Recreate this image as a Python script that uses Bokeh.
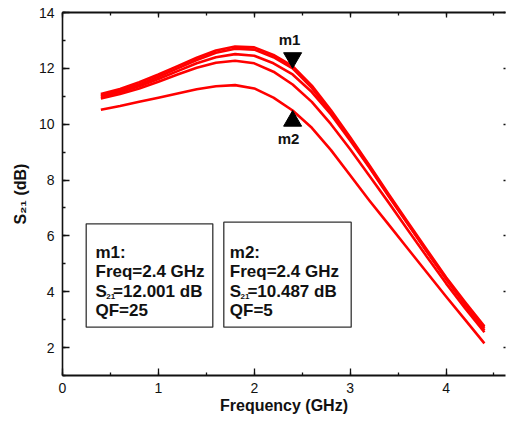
import math
from bokeh.plotting import figure
from bokeh.models import (Range1d, LinearAxis, SingleIntervalTicker, Label,
                          BoxAnnotation, CustomJSTickFormatter)
from bokeh.embed import file_html
from bokeh.resources import INLINE

# ---------------- data ----------------
freq = [0.4, 0.6, 0.8, 1.0, 1.2, 1.4, 1.6, 1.8, 2.0, 2.2, 2.4,
        2.6, 2.8, 3.0, 3.2, 3.4, 3.6, 3.8, 4.0, 4.2, 4.4]

s21_a = [11.08, 11.26, 11.50, 11.78, 12.08, 12.38, 12.64, 12.78, 12.75, 12.48, 12.08,
         11.38, 10.50, 9.53, 8.53, 7.50, 6.50, 5.50, 4.52, 3.62, 2.76]
s21_b = [11.03, 11.20, 11.42, 11.70, 12.00, 12.30, 12.56, 12.70, 12.67, 12.40, 12.00,
         11.30, 10.42, 9.47, 8.48, 7.45, 6.45, 5.45, 4.48, 3.57, 2.70]
s21_c = [10.98, 11.15, 11.36, 11.62, 11.90, 12.18, 12.40, 12.51, 12.45, 12.18, 11.78,
         11.15, 10.35, 9.42, 8.45, 7.43, 6.43, 5.43, 4.46, 3.52, 2.62]
s21_d = [10.92, 11.08, 11.28, 11.52, 11.78, 12.02, 12.20, 12.27, 12.18, 11.88, 11.42,
         10.80, 10.00, 9.10, 8.15, 7.20, 6.22, 5.25, 4.30, 3.40, 2.55]
s21_e = [10.52, 10.65, 10.80, 10.95, 11.10, 11.25, 11.36, 11.40, 11.28, 10.95, 10.49,
         9.87, 9.07, 8.17, 7.27, 6.41, 5.55, 4.69, 3.83, 2.99, 2.15]
series = [s21_a, s21_b, s21_c, s21_d, s21_e]

marker_names = ["m1", "m2"]
marker_freq = [2.4, 2.4]
marker_s21 = [12.001, 10.487]
marker_qf = ["25", "5"]
marker_val = ["12.001", "10.487"]

x_tick_interval = 1
y_tick_interval = 2

# ---------------- layout ----------------
W, H = 506, 423
BL, BR, BT, BB = 62, 1, 12, 48
X_END = 4.62
Y_START, Y_END = 1, 14
PPX = (W - BL - BR) / X_END
PPY = (H - BT - BB) / (Y_END - Y_START)


def dx(px):
    return (px - BL) / PPX


def dy(py):
    return Y_END - (py - BT) / PPY


FONT = "Liberation Sans"
INK = "#111111"

p = figure(width=W, height=H, output_backend="svg", toolbar_location=None,
           x_range=Range1d(0, X_END), y_range=Range1d(Y_START, Y_END),
           min_border_left=BL, min_border_right=BR, min_border_top=BT,
           min_border_bottom=BB, x_axis_location=None, y_axis_location=None)
p.grid.visible = False
p.outline_line_color = None
p.background_fill_color = "white"
p.border_fill_color = "white"

blank = CustomJSTickFormatter(code="return ''")


def style_axis(ax, labels=True):
    ax.axis_line_color = INK
    ax.axis_line_width = 2
    ax.major_tick_line_color = INK
    ax.minor_tick_line_color = INK
    ax.major_tick_line_width = 1.3
    ax.minor_tick_line_width = 1.3
    ax.major_tick_out = 0
    ax.minor_tick_out = 0
    ax.major_tick_in = 7
    ax.minor_tick_in = 3
    ax.major_label_text_font = FONT
    ax.major_label_text_font_size = "14px"
    ax.major_label_text_color = INK
    if not labels:
        ax.formatter = blank
        ax.major_label_text_font_size = "1px"
        ax.major_label_standoff = 0


bottom = LinearAxis(ticker=SingleIntervalTicker(interval=x_tick_interval, num_minor_ticks=2))
style_axis(bottom)
bottom.major_label_standoff = 7
bottom.axis_label = "Frequency (GHz)"
bottom.axis_label_text_font = FONT
bottom.axis_label_text_font_style = "bold"
bottom.axis_label_text_font_size = "16px"
bottom.axis_label_text_color = INK
bottom.axis_label_standoff = 1
p.add_layout(bottom, "below")

top = LinearAxis(ticker=SingleIntervalTicker(interval=x_tick_interval, num_minor_ticks=2))
style_axis(top, labels=False)
top.major_tick_in = 5
top.minor_tick_in = 3
p.add_layout(top, "above")

left = LinearAxis(ticker=SingleIntervalTicker(interval=y_tick_interval, num_minor_ticks=2))
style_axis(left)
left.axis_line_width = 1.6
left.major_tick_in = 7
left.minor_tick_in = 3
left.major_label_standoff = 8
left.axis_label = "S\u2082\u2081 (dB)"
left.axis_label_text_font = FONT
left.axis_label_text_font_style = "bold"
left.axis_label_text_font_size = "16px"
left.axis_label_text_color = INK
left.axis_label_standoff = 7
p.add_layout(left, "left")

right = LinearAxis(ticker=SingleIntervalTicker(interval=y_tick_interval, num_minor_ticks=2))
style_axis(right, labels=False)
right.axis_line_color = None
right.major_tick_in = 2
right.minor_tick_in = 0
p.add_layout(right, "right")

# curves
for s in series:
    p.line(freq, s, line_color="#ff0000", line_width=2.6, line_join="round")

# marker triangles (apex at marker value)
TRI = 18
apex_off = (TRI / 2) * math.sqrt(3) * 2 / 3
p.scatter([marker_freq[0]], [marker_s21[0] + apex_off / PPY], marker="inverted_triangle",
          size=TRI, fill_color="black", line_color="black")
p.scatter([marker_freq[1]], [marker_s21[1] - apex_off / PPY], marker="triangle",
          size=TRI, fill_color="black", line_color="black")

p.add_layout(Label(x=dx(289), y=dy(39), text=marker_names[0], text_font=FONT,
                   text_font_size="15px", text_font_style="bold", text_color=INK,
                   text_align="center", text_baseline="middle"))
p.add_layout(Label(x=dx(288), y=dy(138), text=marker_names[1], text_font=FONT,
                   text_font_size="15px", text_font_style="bold", text_color=INK,
                   text_align="center", text_baseline="middle"))

# info boxes
boxes = [(85.7, 212.3, 223.3, 326.7, 95.0), (223.3, 350.7, 221.7, 326.7, 229.3)]
baselines = [251.7, 271.2, 290.7, 310.2]


def lab(xp, yp, text, size="17px"):
    p.add_layout(Label(x=dx(xp), y=dy(yp), text=text, text_font=FONT,
                       text_font_size=size, text_font_style="bold",
                       text_color=INK, text_align="left",
                       text_baseline="alphabetic", level="overlay"))


for i, (l, r, t, b, tx) in enumerate(boxes):
    p.add_layout(BoxAnnotation(left=dx(l), right=dx(r), top=dy(t), bottom=dy(b),
                               fill_color="white", fill_alpha=1.0,
                               line_color="#333333", line_alpha=1.0,
                               line_width=1.3, level="overlay"))
    lab(tx, baselines[0], marker_names[i] + ":")
    lab(tx, baselines[1], "Freq=%.1f GHz" % marker_freq[i])
    lab(tx, baselines[2], "S")
    lab(tx + 10.8, baselines[2] + 5.5, "21", size="8px")
    lab(tx + 17.6, baselines[2], "=" + marker_val[i] + " dB")
    lab(tx, baselines[3], "QF=" + marker_qf[i])

open("out.html", "w").write(file_html(p, INLINE))
